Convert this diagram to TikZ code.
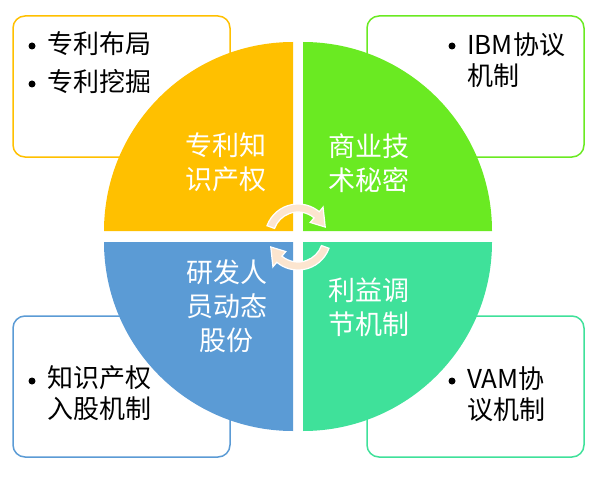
\documentclass[tikz,border=0pt]{standalone}
\usepackage{fontspec}
\setmainfont{Noto Sans CJK SC}
\definecolor{cOrange}{HTML}{FFC000}
\definecolor{cGreen}{HTML}{6AEA22}
\definecolor{cBlue}{HTML}{5B9BD5}
\definecolor{cTeal}{HTML}{3FE19A}
\definecolor{cPeach}{HTML}{FCE5CF}
\begin{document}
\begin{tikzpicture}[x=1pt,y=-1pt,
  card/.style={draw, line width=1.5pt, rounded corners=12pt, fill=white},
  intext/.style={text=white, font=\fontsize{27}{34}\selectfont, align=center, inner sep=0pt},
  boxtext/.style={text=black, font=\fontsize{26}{31}\selectfont, align=left, inner sep=0pt, anchor=west},
  dot/.style={circle, fill=black, minimum size=7pt, inner sep=0pt},
  turn/.style={draw=white, line width=1.2pt, fill=cPeach}]
\useasboundingbox (0,0) rectangle (604,476);
% cards
\draw[card, draw=cOrange] (13,16) rectangle (230,157);
\draw[card, draw=cGreen] (367,16) rectangle (584,157);
\draw[card, draw=cBlue] (13,316) rectangle (230,457);
\draw[card, draw=cTeal] (367,316) rectangle (584,457);
% quadrants
\fill[cOrange] (293,231) -- ++(-189,0) arc[start angle=180, end angle=270, radius=189] -- cycle;
\fill[cGreen] (303,231) -- ++(0,-189) arc[start angle=270, end angle=360, radius=189] -- cycle;
\fill[cTeal] (303,242) -- ++(189,0) arc[start angle=0, end angle=90, radius=189] -- cycle;
\fill[cBlue] (293,242) -- ++(0,189) arc[start angle=90, end angle=180, radius=189] -- cycle;
% circular arrows
\coordinate (c) at (298,237);
\draw[turn] ([shift={(c)}]200:33) arc[start angle=200, end angle=310, radius=33]
  -- ([shift={(c)}]310:39) -- ([shift={(c)}]340:29) -- ([shift={(c)}]310:19)
  -- ([shift={(c)}]310:25) arc[start angle=310, end angle=200, radius=25] -- cycle;
\draw[turn] ([shift={(c)}]20:33) arc[start angle=20, end angle=130, radius=33]
  -- ([shift={(c)}]130:39) -- ([shift={(c)}]160:29) -- ([shift={(c)}]130:19)
  -- ([shift={(c)}]130:25) arc[start angle=130, end angle=20, radius=25] -- cycle;
% circle texts
\node[intext] (ip) at (226,162) {专利知\\识产权};
\node[intext] (trade) at (369,163) {商业技\\术秘密};
\node[intext] (staff) at (226.5,306.5) {研发人\\员动态\\股份};
\node[intext] (benefit) at (369,307) {利益调\\节机制};
% card texts
\node[dot] (b1) at (32,46) {};
\node[boxtext] (tl1) at (47,44) {专利布局};
\node[dot] (b2) at (32,84) {};
\node[boxtext] (tl2) at (47,82) {专利挖掘};
\node[dot] (b3) at (452,46) {};
\node[boxtext] (trt) at (467,59.75) {IBM协议\\机制};
\node[dot] (b4) at (32,381) {};
\node[boxtext] (blt) at (47,393.5) {知识产权\\入股机制};
\node[dot] (b5) at (452,381) {};
\node[boxtext] (brt) at (467,394) {VAM协\\议机制};
\end{tikzpicture}
\end{document}
